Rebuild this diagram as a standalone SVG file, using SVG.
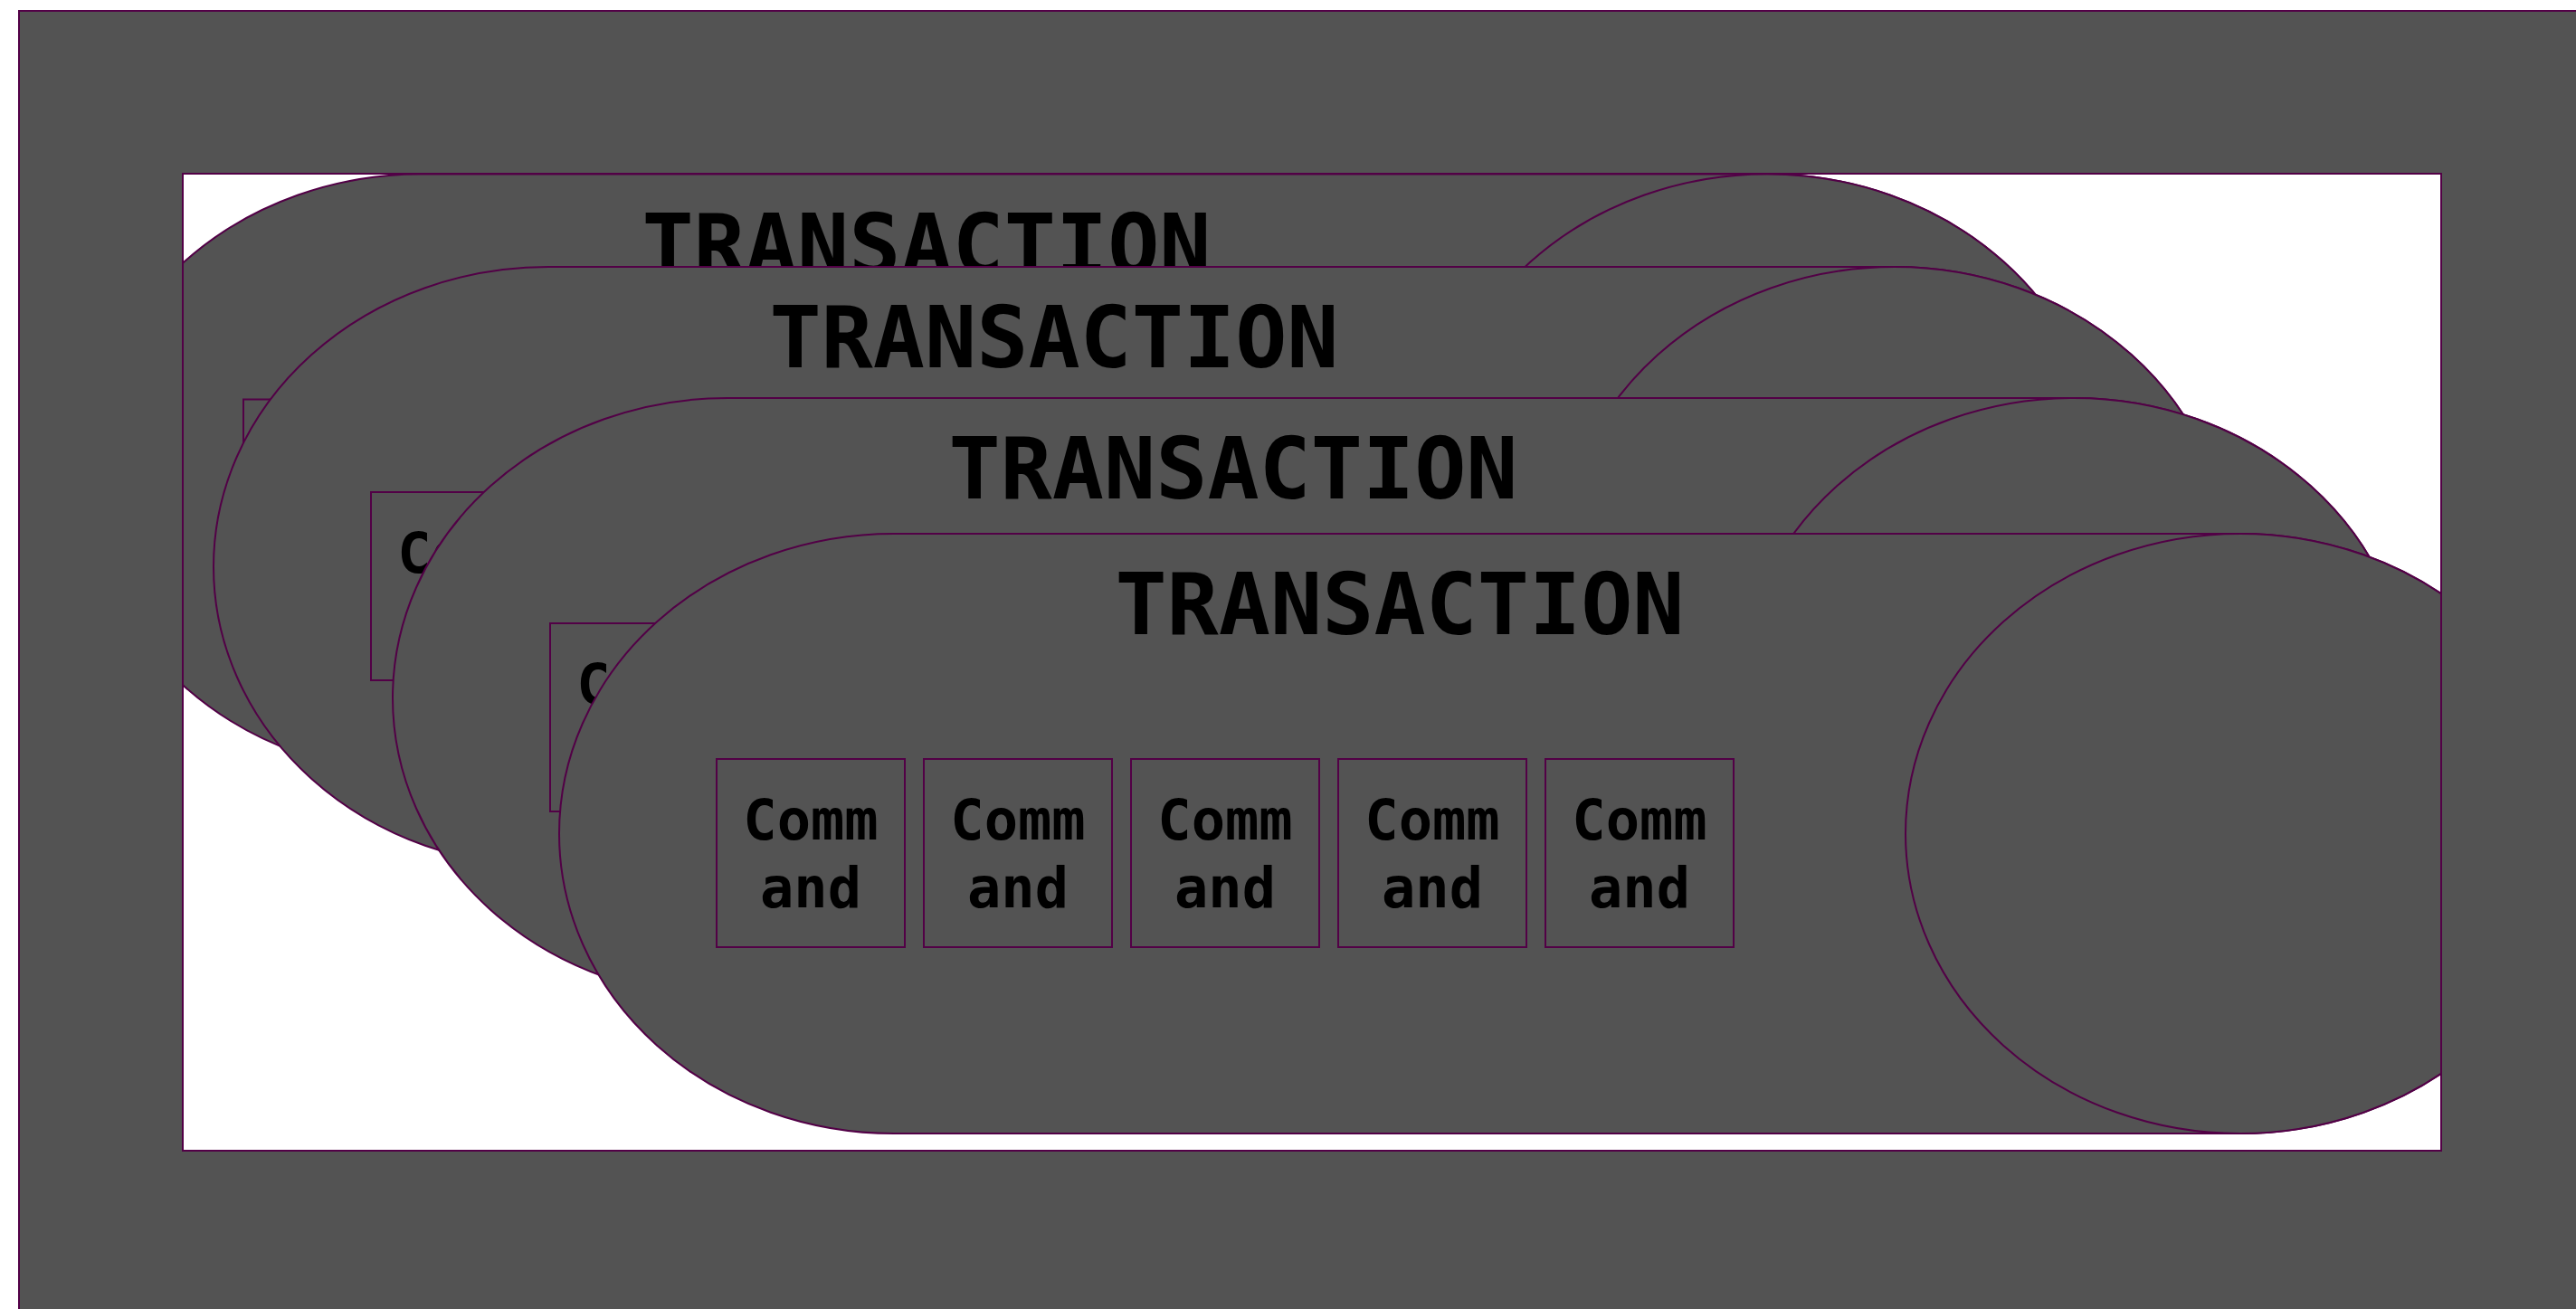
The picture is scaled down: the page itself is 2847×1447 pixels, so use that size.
<svg xmlns="http://www.w3.org/2000/svg" width="2847" height="1447" viewBox="0 0 2847 1447">
<defs>
<style>
.bg{fill:#535353;stroke:#520046;stroke-width:2}
.frame{fill:#ffffff;stroke:none}
.frameline{fill:none;stroke:#520046;stroke-width:2}
.cyl{fill:#535353;stroke:#520046;stroke-width:2}
.cmd{fill:#535353;stroke:#520046;stroke-width:2}
.title{font-family:"DejaVu Sans Mono","Liberation Mono",monospace;font-weight:bold;font-size:95px;fill:#000;text-anchor:middle}
.ctext{font-family:"DejaVu Sans Mono","Liberation Mono",monospace;font-weight:bold;font-size:62px;fill:#000;text-anchor:middle}
</style>
<clipPath id="inner"><rect x="202" y="192" width="2496" height="1080"/></clipPath>
<g id="tx">
<path class="cyl" d="M370,0 H1858 A370,331.5 0 0 1 1858,663 H370 A370,331.5 0 0 1 370,0 Z"/>
<ellipse class="cyl" cx="1858" cy="331.5" rx="370" ry="331.5"/>
<text class="title" x="929" y="111">TRANSACTION</text>
<rect class="cmd" x="174" y="249" width="208" height="208"/>
<text class="ctext" x="278" y="338">Comm</text><text class="ctext" x="278" y="413">and</text>
<rect class="cmd" x="403" y="249" width="208" height="208"/>
<text class="ctext" x="507" y="338">Comm</text><text class="ctext" x="507" y="413">and</text>
<rect class="cmd" x="632" y="249" width="208" height="208"/>
<text class="ctext" x="736" y="338">Comm</text><text class="ctext" x="736" y="413">and</text>
<rect class="cmd" x="861" y="249" width="208" height="208"/>
<text class="ctext" x="965" y="338">Comm</text><text class="ctext" x="965" y="413">and</text>
<rect class="cmd" x="1090" y="249" width="208" height="208"/>
<text class="ctext" x="1194" y="338">Comm</text><text class="ctext" x="1194" y="413">and</text>
</g>
</defs>
<rect id="outer" class="bg" x="21" y="12" width="2900" height="1500"/>
<rect class="frame" x="202" y="192" width="2496" height="1080"/>
<g clip-path="url(#inner)">
<g id="transaction1"><use href="#tx" x="95" y="192.5"/></g>
<g id="transaction2"><use href="#tx" x="236" y="295"/></g>
<g id="transaction3"><use href="#tx" x="434" y="440"/></g>
<g id="transaction4"><use href="#tx" x="618" y="590"/></g>
</g>
<rect class="frameline" x="202" y="192" width="2496" height="1080"/>
<g id="connectors"></g>
</svg>
